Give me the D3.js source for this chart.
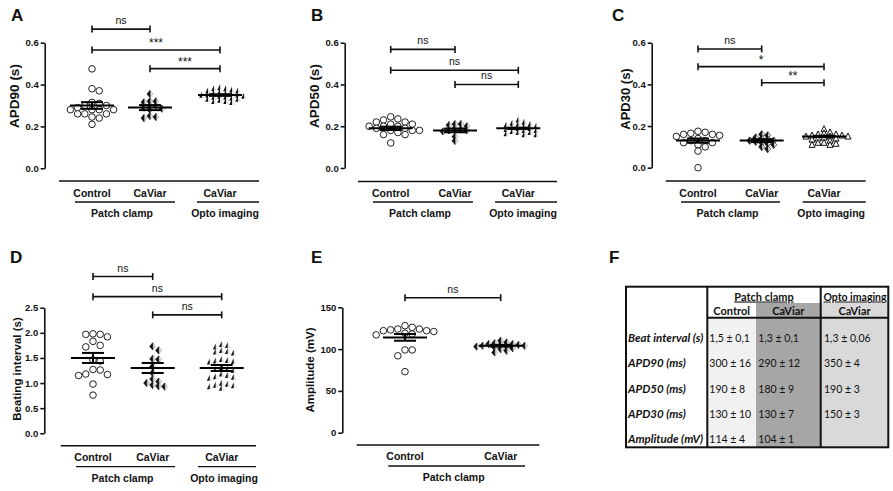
<!DOCTYPE html>
<html>
<head>
<meta charset="utf-8">
<script src="https://cdn.jsdelivr.net/npm/d3@7"></script>
<style>
body { margin: 0; background: #fff; }
text { font-family: "Liberation Sans", Arial, sans-serif; fill: #111; }
.tbl text { font-family: Lato, "Open Sans", sans-serif; }
</style>
</head>
<body>
<svg id="fig" width="893" height="491"></svg>
<script>
// ---- data ----
const catsPatchOpto = ['Control', 'CaViar', 'CaViar'];
const catsPatch = ['Control', 'CaViar'];
const groupsPatchOpto = ['Patch clamp', 'Opto imaging'];
const groupsPatch = ['Patch clamp'];

// A - APD90 (s)
const apd90Control = [0.475, 0.38, 0.37, 0.315, 0.31, 0.30, 0.30, 0.29, 0.28, 0.28, 0.28, 0.28, 0.26, 0.26, 0.26, 0.245, 0.24, 0.21];
const apd90Caviar = [0.355, 0.32, 0.32, 0.315, 0.30, 0.30, 0.29, 0.285, 0.28, 0.25, 0.245, 0.24];
const apd90Opto = [0.385, 0.38, 0.38, 0.375, 0.37, 0.37, 0.365, 0.36, 0.36, 0.355, 0.35, 0.35, 0.35, 0.345, 0.345, 0.34, 0.34, 0.335, 0.33, 0.33, 0.325, 0.32, 0.32, 0.315];
const apd90Mean = [0.30, 0.29, 0.35];
const apd90Sem = [0.016, 0.012, 0.004];
const apd90Sig = [[0, 1, 0.665, 'ns'], [0, 2, 0.565, '***'], [1, 2, 0.476, '***']];

// B - APD50 (s)
const apd50Control = [0.245, 0.235, 0.23, 0.22, 0.22, 0.21, 0.21, 0.20, 0.20, 0.20, 0.19, 0.19, 0.18, 0.18, 0.18, 0.17, 0.16, 0.16, 0.12];
const apd50Caviar = [0.21, 0.21, 0.205, 0.20, 0.19, 0.185, 0.18, 0.18, 0.175, 0.15, 0.13];
const apd50Opto = [0.23, 0.22, 0.215, 0.21, 0.21, 0.205, 0.20, 0.20, 0.195, 0.19, 0.19, 0.185, 0.18, 0.18, 0.175, 0.17, 0.17, 0.165, 0.16, 0.16];
const apd50Mean = [0.19, 0.18, 0.19];
const apd50Sem = [0.008, 0.009, 0.003];
const apd50Sig = [[0, 1, 0.568, 'ns'], [0, 2, 0.468, 'ns'], [1, 2, 0.40, 'ns']];

// C - APD30 (s)
const apd30Control = [0.175, 0.17, 0.165, 0.16, 0.16, 0.155, 0.15, 0.14, 0.13, 0.13, 0.12, 0.12, 0.11, 0.10, 0.08, 0.0];
const apd30Caviar = [0.16, 0.155, 0.145, 0.14, 0.135, 0.13, 0.13, 0.125, 0.12, 0.115, 0.11, 0.10, 0.09];
const apd30Opto = [0.185, 0.17, 0.165, 0.16, 0.16, 0.155, 0.155, 0.15, 0.15, 0.15, 0.145, 0.14, 0.14, 0.135, 0.13, 0.12, 0.12, 0.115, 0.11, 0.11];
const apd30Mean = [0.13, 0.13, 0.15];
const apd30Sem = [0.01, 0.007, 0.003];
const apd30Sig = [[0, 1, 0.57, 'ns'], [0, 2, 0.485, '*'], [1, 2, 0.408, '**']];

// D - Beating interval (s)
const beatControl = [1.98, 1.97, 1.97, 1.92, 1.83, 1.75, 1.72, 1.46, 1.44, 1.27, 1.26, 1.18, 1.17, 1.15, 0.98, 0.76];
const beatCaviar = [1.73, 1.65, 1.48, 1.47, 1.33, 1.20, 1.08, 1.03, 1.00, 0.96, 0.94, 0.93];
const beatOpto = [1.77, 1.75, 1.72, 1.65, 1.63, 1.62, 1.60, 1.47, 1.45, 1.44, 1.43, 1.42, 1.30, 1.28, 1.27, 1.25, 1.18, 1.15, 1.13, 1.12, 1.10, 1.00, 0.98, 0.96, 0.95, 0.93, 0.90];
const beatMean = [1.5, 1.3, 1.3];
const beatSem = [0.1, 0.1, 0.06];
const beatSig = [[0, 1, 3.12, 'ns'], [0, 2, 2.72, 'ns'], [1, 2, 2.357, 'ns']];

// E - Amplitude (mV)
const ampControl = [128, 126, 124, 124, 123, 122, 122, 121, 119, 118, 117, 99, 99, 92, 73];
const ampCaviar = [110, 108, 107, 106, 106, 105, 105, 104, 104, 103, 103, 102, 101, 100, 98, 96];
const ampMean = [114, 104];
const ampSem = [4, 1];
const ampSig = [[0, 1, 161.5, 'ns']];

// F - summary table
const tableRowLabels = ['Beat interval (s)', 'APD90 (ms)', 'APD50 (ms)', 'APD30 (ms)', 'Amplitude (mV)'];
const tableControl = ['1,5 ± 0,1', '300 ± 16', '190 ± 8', '130 ± 10', '114 ± 4'];
const tableCaviar = ['1,3 ± 0,1', '290 ± 12', '180 ± 9', '130 ± 7', '104 ± 1'];
const tableOpto = ['1,3 ± 0,06', '350 ± 4', '190 ± 3', '150 ± 3', ''];

const svg = d3.select('#fig');

// simple dot-plot spreading, like the column scatter of the original
function swarm(vals, y, cx, step, tight) {
    const placed = [];
    vals.slice().sort((a, b) => b - a).forEach(v => {
        const py = y(v);
        for (let k = 0; k < 40; k++) {
            const off = k === 0 ? 0 : Math.ceil(k / 2) * step * (k % 2 ? 1 : -1);
            const px = cx + off;
            const hit = placed.some(p => (p.x - px) ** 2 + (p.y - py) ** 2 < step * step * tight);
            if (!hit) { placed.push({x: px, y: py}); break; }
        }
    });
    return placed;
}

function drawMarker(g, kind, outline) {
    if (kind === 'circle') {
        g.append('circle').attr('r', 3.3).attr('fill', '#fff').attr('stroke', '#222').attr('stroke-width', 1);
    } else if (kind === 'diamond') {
        g.append('path').attr('d', 'M0,-3.6L3,0L0,3.6Z').attr('fill', outline ? '#fff' : '#e2e2e2').attr('stroke', outline ? '#111' : '#aaa').attr('stroke-width', 0.7);
        g.append('path').attr('d', 'M0,-3.6L-3,0L0,3.6Z').attr('fill', '#111').attr('stroke', '#111').attr('stroke-width', 0.7);
    } else {
        if (outline) {
            g.append('path').attr('d', 'M0,-3.4L3,2.6L-3,2.6Z').attr('fill', '#fff').attr('stroke', '#111').attr('stroke-width', 1);
        } else {
            g.append('path').attr('d', 'M0,-3.4L2.8,2.6L0,2.6Z').attr('fill', '#e2e2e2');
            g.append('path').attr('d', 'M0,-3.4L-2.8,2.6L0,2.6Z').attr('fill', '#111');
        }
    }
}

function drawPanel(p) {
    const g = svg.append('g');
    const y = d3.scaleLinear().domain(p.domain).range([p.yBot, p.yTop]);
    const x = d3.scaleOrdinal().domain(d3.range(p.cats.length)).range(p.catX);

    g.append('text').attr('x', p.letterX).attr('y', p.letterY).text(p.letter)
        .style('font-size', '17px').style('font-weight', 'bold');

    const ax = g.append('g').attr('transform', `translate(${p.axisX},0)`)
        .call(d3.axisLeft(y).tickValues(p.ticks).tickFormat(d3.format(p.fmt)).tickSize(4).tickSizeOuter(0).tickPadding(2));
    ax.select('.domain').attr('stroke', '#111').attr('stroke-width', 1.6);
    ax.selectAll('.tick line').attr('stroke', '#111').attr('stroke-width', 1.6);
    ax.selectAll('.tick text').style('font-size', '9.5px').style('font-weight', 'bold').style('font-family', '"Liberation Sans", Arial, sans-serif').attr('fill', '#111');

    g.append('text')
        .attr('transform', `translate(${p.labelX},${p.labelY}) rotate(-90)`)
        .attr('text-anchor', 'middle').attr('dy', '0.35em')
        .style('font-size', p.labelSize + 'px').style('font-weight', 'bold').text(p.ylabel);

    g.append('line').attr('x1', p.xAxis[0]).attr('x2', p.xAxis[1])
        .attr('y1', p.xAxisY).attr('y2', p.xAxisY).attr('stroke', '#111').attr('stroke-width', 1.6);

    p.cats.forEach((c, i) => {
        g.append('text').attr('x', x(i)).attr('y', p.catY).attr('text-anchor', 'middle')
            .style('font-size', '10.5px').style('font-weight', 'bold').text(c);
    });

    p.groups.forEach((name, i) => {
        const [x1, x2] = p.groupLines[i];
        g.append('line').attr('x1', x1).attr('x2', x2).attr('y1', p.groupLineY).attr('y2', p.groupLineY)
            .attr('stroke', '#111').attr('stroke-width', 1.3);
        g.append('text').attr('x', (x1 + x2) / 2 - 3).attr('y', p.groupTextY).attr('text-anchor', 'middle')
            .style('font-size', '10.5px').style('font-weight', 'bold').text(name);
    });

    // significance brackets
    p.sig.forEach(([a, b, v, lab]) => {
        const yy = y(v);
        const s = g.append('g').attr('stroke', '#111').attr('stroke-width', 1.6);
        s.append('line').attr('x1', x(a)).attr('x2', x(b)).attr('y1', yy).attr('y2', yy);
        s.append('line').attr('x1', x(a)).attr('x2', x(a)).attr('y1', yy - 3.5).attr('y2', yy + 3.5);
        s.append('line').attr('x1', x(b)).attr('x2', x(b)).attr('y1', yy - 3.5).attr('y2', yy + 3.5);
        g.append('text').attr('x', (x(a) + x(b)) / 2).attr('y', lab === 'ns' ? yy - 5 : yy - 3)
            .attr('text-anchor', 'middle').style('font-size', lab === 'ns' ? '10.5px' : '12px').text(lab);
    });

    // points
    p.series.forEach((vals, i) => {
        const m = p.markers[i];
        const circ = m.kind === 'circle';
        swarm(vals, y, x(i), circ ? 7.2 : 6, circ ? 0.75 : 0.45).forEach(pt => {
            drawMarker(g.append('g').attr('transform', `translate(${pt.x},${pt.y})`), m.kind, m.outline);
        });
    });

    // mean +/- SEM
    p.mean.forEach((mv, i) => {
        const cx = x(i), sd = p.sem[i];
        const e = g.append('g').attr('stroke', '#000').attr('stroke-width', 2);
        e.append('line').attr('x1', cx - 22).attr('x2', cx + 22).attr('y1', y(mv)).attr('y2', y(mv));
        e.append('line').attr('x1', cx - 11).attr('x2', cx + 11).attr('y1', y(mv + sd)).attr('y2', y(mv + sd));
        e.append('line').attr('x1', cx - 11).attr('x2', cx + 11).attr('y1', y(mv - sd)).attr('y2', y(mv - sd));
        e.append('line').attr('x1', cx).attr('x2', cx).attr('y1', y(mv + sd)).attr('y2', y(mv - sd));
    });
}

const mk3 = [{kind: 'circle'}, {kind: 'diamond'}, {kind: 'triangle'}];
const mk3open = [{kind: 'circle'}, {kind: 'diamond', outline: true}, {kind: 'triangle', outline: true}];

drawPanel({
    letter: 'A', letterX: 11, letterY: 21,
    domain: [0, 0.6], ticks: [0, 0.2, 0.4, 0.6], fmt: '.1f',
    axisX: 44.7, yTop: 42.7, yBot: 168.3, labelX: 14, labelY: 96, labelSize: 13.5, ylabel: 'APD90 (s)',
    catX: [92, 150, 220], cats: catsPatchOpto, xAxisY: 181, xAxis: [59, 259], catY: 197,
    groups: groupsPatchOpto, groupLines: [[75, 175], [197, 259]], groupLineY: 202, groupTextY: 217,
    series: [apd90Control, apd90Caviar, apd90Opto], markers: mk3,
    mean: apd90Mean, sem: apd90Sem, sig: apd90Sig
});

drawPanel({
    letter: 'B', letterX: 311, letterY: 21,
    domain: [0, 0.6], ticks: [0, 0.2, 0.4, 0.6], fmt: '.1f',
    axisX: 344.7, yTop: 42.7, yBot: 168, labelX: 314, labelY: 96, labelSize: 13.5, ylabel: 'APD50 (s)',
    catX: [390.7, 455, 518.3], cats: catsPatchOpto, xAxisY: 181.5, xAxis: [358, 557], catY: 197,
    groups: groupsPatchOpto, groupLines: [[373, 473], [495, 557]], groupLineY: 202, groupTextY: 217,
    series: [apd50Control, apd50Caviar, apd50Opto], markers: mk3,
    mean: apd50Mean, sem: apd50Sem, sig: apd50Sig
});

drawPanel({
    letter: 'C', letterX: 612, letterY: 21,
    domain: [0, 0.6], ticks: [0, 0.2, 0.4, 0.6], fmt: '.1f',
    axisX: 651.7, yTop: 42.7, yBot: 167.7, labelX: 625, labelY: 99, labelSize: 13, ylabel: 'APD30 (s)',
    catX: [698, 761.7, 824], cats: catsPatchOpto, xAxisY: 181, xAxis: [665.7, 865.7], catY: 197,
    groups: groupsPatchOpto, groupLines: [[681, 780], [802.7, 865.7]], groupLineY: 202, groupTextY: 217,
    series: [apd30Control, apd30Caviar, apd30Opto], markers: mk3open,
    mean: apd30Mean, sem: apd30Sem, sig: apd30Sig
});

drawPanel({
    letter: 'D', letterX: 10, letterY: 263,
    domain: [0, 2.5], ticks: [0, 0.5, 1, 1.5, 2, 2.5], fmt: '.1f',
    axisX: 44.3, yTop: 307.7, yBot: 433.3, labelX: 17, labelY: 369, labelSize: 11.5, ylabel: 'Beating interval (s)',
    catX: [93, 152.7, 221.7], cats: catsPatchOpto, xAxisY: 445.7, xAxis: [60.7, 256], catY: 461,
    groups: groupsPatchOpto, groupLines: [[76, 175], [198, 256]], groupLineY: 466.7, groupTextY: 481.5,
    series: [beatControl, beatCaviar, beatOpto], markers: mk3,
    mean: beatMean, sem: beatSem, sig: beatSig
});

drawPanel({
    letter: 'E', letterX: 311, letterY: 263,
    domain: [0, 150], ticks: [0, 50, 100, 150], fmt: 'd',
    axisX: 342.3, yTop: 307.3, yBot: 432.7, labelX: 310, labelY: 370, labelSize: 11.5, ylabel: 'Amplitude (mV)',
    catX: [405, 500.7], cats: catsPatch, xAxisY: 445, xAxis: [356.7, 539.3], catY: 460,
    groups: groupsPatch, groupLines: [[388.3, 525]], groupLineY: 466, groupTextY: 480.5,
    series: [ampControl, ampCaviar], markers: [{kind: 'circle'}, {kind: 'diamond'}],
    mean: ampMean, sem: ampSem, sig: ampSig
});

// ---- F: table ----
svg.append('text').attr('x', 609).attr('y', 263).text('F').style('font-size', '17px').style('font-weight', 'bold');

const tbl = svg.append('g').attr('class', 'tbl');
const colX = [626, 707.3, 756, 820.7, 888.3];
const head1 = 286.7, head2 = 303, bodyTop = 317.7, tBottom = 447.3;
const rowY = d3.scalePoint().domain(d3.range(tableRowLabels.length)).range([337.7, 439.3]);

// column shading
tbl.append('rect').attr('x', colX[1]).attr('y', bodyTop).attr('width', colX[2] - colX[1]).attr('height', tBottom - bodyTop).attr('fill', '#f1f1f1');
tbl.append('rect').attr('x', colX[2]).attr('y', head2).attr('width', colX[3] - colX[2]).attr('height', tBottom - head2).attr('fill', '#a6a6a6');
tbl.append('rect').attr('x', colX[3]).attr('y', head2).attr('width', colX[4] - colX[3]).attr('height', tBottom - head2).attr('fill', '#d9d9d9');

// borders
tbl.append('rect').attr('x', colX[0]).attr('y', head1).attr('width', colX[4] - colX[0]).attr('height', tBottom - head1)
    .attr('fill', 'none').attr('stroke', '#111').attr('stroke-width', 2);
[colX[1], colX[3]].forEach(cx => {
    tbl.append('line').attr('x1', cx).attr('x2', cx).attr('y1', head1).attr('y2', tBottom).attr('stroke', '#111').attr('stroke-width', 2);
});
tbl.append('line').attr('x1', colX[1]).attr('x2', colX[4]).attr('y1', bodyTop).attr('y2', bodyTop).attr('stroke', '#111').attr('stroke-width', 2);

// headers
tbl.append('text').attr('x', (colX[1] + colX[3]) / 2).attr('y', 300.5).attr('text-anchor', 'middle')
    .style('font-size', '11px').style('font-weight', 'bold').style('text-decoration', 'underline').text(groupsPatchOpto[0]);
tbl.append('text').attr('x', (colX[3] + colX[4]) / 2 + 0.5).attr('y', 300.5).attr('text-anchor', 'middle')
    .style('font-size', '10.5px').style('font-weight', 'bold').style('text-decoration', 'underline').text(groupsPatchOpto[1]);
catsPatchOpto.forEach((c, i) => {
    tbl.append('text').attr('x', (colX[i + 1] + colX[i + 2]) / 2).attr('y', 315.2).attr('text-anchor', 'middle')
        .style('font-size', '11px').style('font-weight', 'bold').text(c);
});

// body
tableRowLabels.forEach((lab, r) => {
    const yy = rowY(r) + 4;
    tbl.append('text').attr('x', 628).attr('y', yy).style('font-size', '11.5px')
        .style('font-weight', 'bold').style('font-style', 'italic').text(lab);
    [tableControl, tableCaviar, tableOpto].forEach((col, c) => {
        tbl.append('text').attr('x', [709.3, 758.3, 824][c]).attr('y', yy).style('font-size', '10.5px').text(col[r]);
    });
});
</script>
</body>
</html>
